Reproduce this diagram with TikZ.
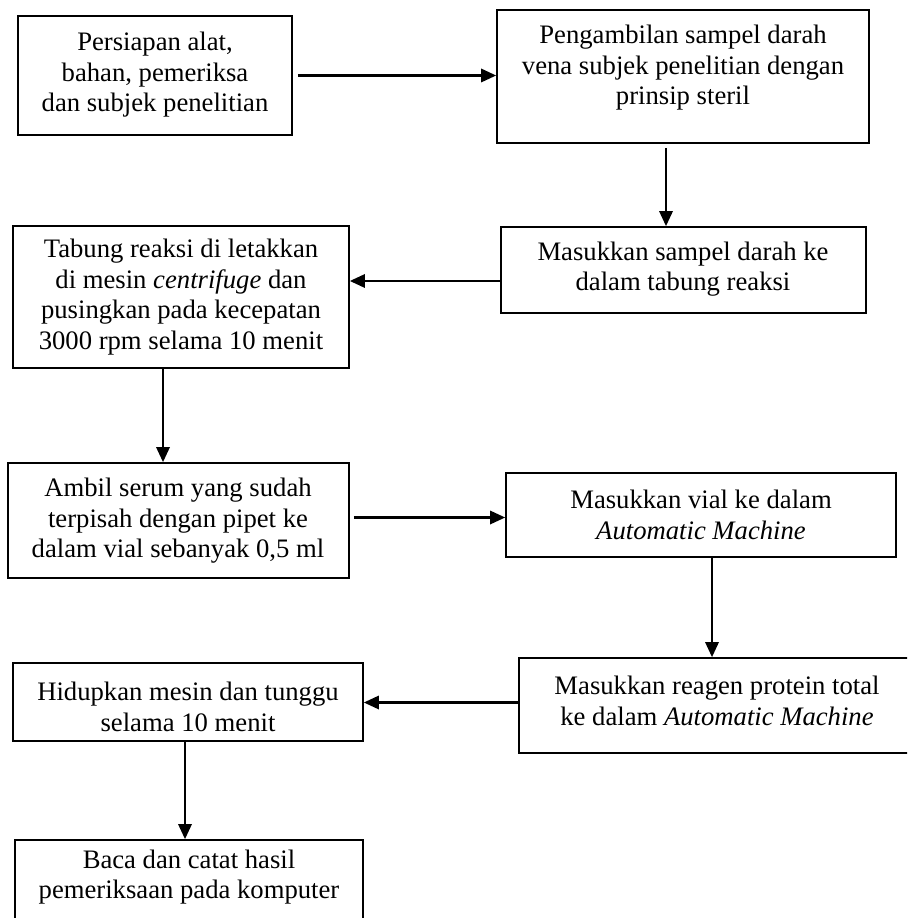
\documentclass[tikz,border=0pt]{standalone}
\usepackage{fontspec}
\setmainfont{Liberation Serif}
\usetikzlibrary{arrows.meta,calc}
\newcommand\bx[5]{\node[box,minimum width={(#4-#2)*0.45pt},minimum height={(#5-#3)*0.45pt}] (#1) at ({(#2+#4)/2},{(#3+#5)/2}) {};}
\begin{document}
\begin{tikzpicture}[x=0.45pt,y=-0.45pt,
  box/.style={draw,line width=0.75pt,rectangle,inner sep=0pt},
  txt/.style={align=center,font=\fontsize{12}{13.7}\selectfont,inner sep=0pt},
  arr/.style={line width=1.05pt,-{Triangle[length=6.8pt,width=6pt]}}]
\useasboundingbox (0,0) rectangle (907,918);
\clip (0,0) rectangle (907,918);
\bx{b1}{18}{16}{292}{135}
\bx{b2}{497}{10}{869}{143}
\bx{b3}{501}{227}{866}{313}
\bx{b4}{13}{226}{349}{368}
\bx{b5}{8}{463}{349}{578}
\bx{b6}{506}{473}{896}{557}
\bx{b7}{519}{658}{915}{753}
\bx{b8}{13}{663}{363}{741}
\bx{b9}{15}{840}{363}{930}
\node[txt] (t1) at (155,75) {Persiapan alat,\\bahan, pemeriksa\\dan subjek penelitian};
\node[txt] (t2) at (683,68) {Pengambilan sampel darah\\vena subjek penelitian dengan\\prinsip steril};
\node[txt] (t3) at (683,269) {Masukkan sampel darah ke\\dalam tabung reaksi};
\node[txt] (t4) at (181,297) {Tabung reaksi di letakkan\\di mesin \textit{centrifuge} dan\\pusingkan pada kecepatan\\3000 rpm selama 10 menit};
\node[txt] (t5) at (178,521) {Ambil serum yang sudah\\terpisah dengan pipet ke\\dalam vial sebanyak 0,5 ml};
\node[txt] (t6) at (701,515) {Masukkan vial ke dalam\\\textit{Automatic Machine}};
\node[txt] (t7) at (717,701) {Masukkan reagen protein total\\ke dalam \textit{Automatic Machine}};
\node[txt] (t8) at (188,707) {Hidupkan mesin dan tunggu\\selama 10 menit};
\node[txt] (t9) at (189,877) {Baca dan catat hasil\\pemeriksaan pada komputer};
\coordinate (a1) at ($(b1.east)+(5,0)$); \draw[arr] (a1) -- (a1 -| b2.west);
\coordinate (a2) at ($(b2.south)+(-17,4)$); \draw[arr] (a2) -- (a2 |- b3.north);
\coordinate (a3) at ($(b3.west)+(0,11)$); \draw[arr] (a3) -- (a3 -| b4.east);
\coordinate (a4) at ($(b4.south)+(-18,0)$); \draw[arr] (a4) -- (a4 |- b5.north);
\coordinate (a5) at ($(b5.east)+(4,-3)$); \draw[arr] (a5) -- (a5 -| b6.west);
\coordinate (a6) at ($(b6.south)+(11,0)$); \draw[arr] (a6) -- (a6 |- b7.north);
\coordinate (a7) at ($(b7.west)+(0,-3)$); \draw[arr] (a7) -- (a7 -| b8.east);
\coordinate (a8) at ($(b8.south)+(-3,0)$); \draw[arr] (a8) -- (a8 |- b9.north);
\end{tikzpicture}
\end{document}
